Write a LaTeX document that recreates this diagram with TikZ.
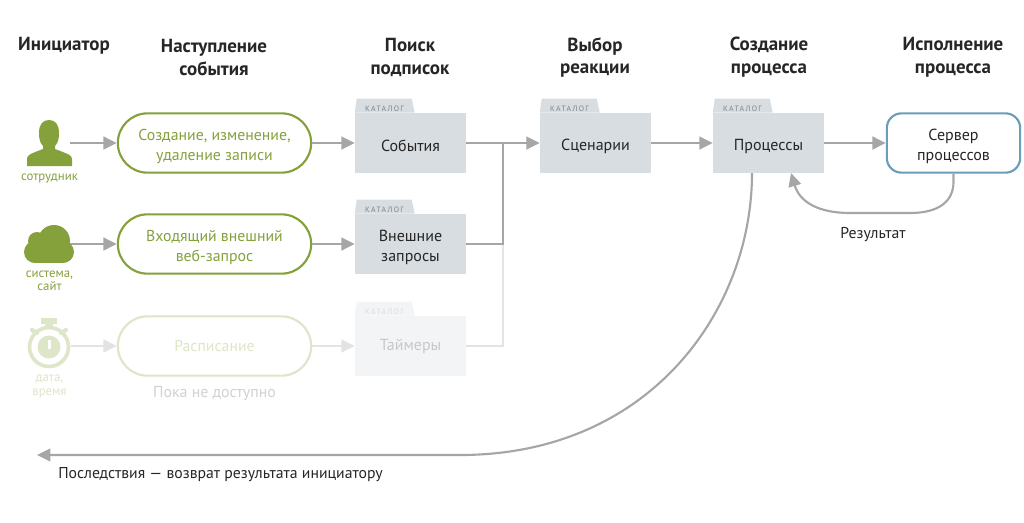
\documentclass[tikz,border=0pt]{standalone}
\usepackage{fontspec}
\setmainfont{PT Sans}
\usepackage{tikz}
\usetikzlibrary{arrows.meta}
\usetikzlibrary{shapes.misc}

\definecolor{leaf}{HTML}{85A13C}
\definecolor{leafpale}{HTML}{DDE6C8}
\definecolor{wire}{HTML}{A6A6A6}
\definecolor{wirepale}{HTML}{E3E3E3}
\definecolor{folderfill}{HTML}{D8DDE1}
\definecolor{folderpale}{HTML}{F3F4F6}
\definecolor{servline}{HTML}{6B9DB5}
\definecolor{tabtext}{HTML}{7F8488}
\definecolor{tabpale}{HTML}{DADCDE}
\definecolor{textpale}{HTML}{C6C8CA}

\newcommand{\lowtext}{\rule{0pt}{13.5pt}}

\tikzset{
  heading/.style={font=\fontsize{14.2}{17.2}\selectfont\bfseries,align=center,text=black!85},
  caption/.style={font=\fontsize{9.6}{9.8}\selectfont,align=center,text=leaf},
  pill/.style={rounded rectangle,draw=leaf,line width=1.6pt,fill=white,text=leaf,align=center,
    minimum width=145pt,minimum height=44.5pt,inner sep=0pt,font=\fontsize{11.85}{15}\selectfont},
  folderbody/.style={fill=folderfill,text=black!85,align=center,minimum width=83.25pt,
    minimum height=45pt,inner sep=0pt,font=\fontsize{12}{15}\selectfont},
  iconbox/.style={minimum width=34.5pt,minimum height=30pt,inner sep=0pt},
  wired/.style={draw=wire,line width=1.8pt},
  conn/.style={wired,-{Triangle[length=10pt,width=9.5pt]}},
  plain/.style={font=\fontsize{11.8}{14}\selectfont,text=black!85},
}

\newcommand{\catalog}[7]{%
  \node[folderbody,fill=#5,text=#6] (#1) at (#2,#3) {#4};
  \fill[#5] (#1.north west) -- ++(2,-14) -- ++(55,0) -- ++(3,14) -- cycle;
  \node[anchor=west,inner sep=0pt,text=#7,font=\fontsize{5.8}{6}\selectfont\addfontfeature{LetterSpace=18}]
    (#1tab) at ([shift={(10,-4)}]#1.north west) {КАТАЛОГ};
}

\begin{document}
\begin{tikzpicture}[x=0.75pt,y=-0.75pt]
\useasboundingbox[fill=white] (0,0) rectangle (1024,522);

\node[heading] (h1) at (64,45.5) {Инициатор};
\node[heading] (h2) at (214,57.5) {Наступление\\события};
\node[heading] (h3) at (410,57.5) {Поиск\\подписок};
\node[heading] (h4) at (595,57.5) {Выбор\\реакции};
\node[heading] (h5) at (769,57.5) {Создание\\процесса};
\node[heading] (h6) at (953,57.5) {Исполнение\\процесса};

\node[iconbox] (worker) at (47,143) {};
\node[iconbox] (cloud) at (47,244) {};
\node[iconbox] (clock) at (48,346) {};

\node[pill] (create) at (214.5,143) {\lowtext Создание, изменение,\\удаление записи};
\node[pill] (request) at (214.5,244) {\lowtext Входящий внешний\\веб-запрос};
\node[pill,draw=leafpale,text=leafpale] (shedule) at (214.5,346) {Расписание};

\catalog{events}{410.5}{143}{\lowtext События}{folderfill}{black!85}{tabtext}
\catalog{queries}{410.5}{244}{\lowtext Внешние\\запросы}{folderfill}{black!85}{tabtext}
\catalog{timers}{410.5}{346}{Таймеры}{folderpale}{textpale}{tabpale}
\catalog{scenes}{595.5}{143}{\lowtext Сценарии}{folderfill}{black!85}{tabtext}
\catalog{procs}{768.5}{143}{\lowtext Процессы}{folderfill}{black!85}{tabtext}

\node[rounded corners=11pt,draw=servline,line width=1.6pt,fill=white,align=center,text=black!85,
  minimum width=100pt,minimum height=44.5pt,inner sep=0pt,font=\fontsize{12}{15}\selectfont]
  (server) at (953.5,143) {\lowtext Сервер\\процессов};

\coordinate (joint) at (503,143);
\coordinate (jointb) at (503,244);
\coordinate (jointc) at (503,346);
\coordinate (procout) at (752,173);
\coordinate (backin) at (791,173);
\coordinate (initiator) at (37,455);

\draw[draw=wirepale,line width=1.4pt] (timers.east) -- (jointc) -- (jointb);
\draw[conn,draw=wirepale] (clock.east) -- (shedule.west);
\draw[conn,draw=wirepale] (shedule.east) -- (timers.west);
\draw[conn] (worker.east) -- (create.west);
\draw[conn] (cloud.east) -- (request.west);
\draw[conn] (create.east) -- (events.west);
\draw[conn] (request.east) -- (queries.west);
\draw[wired] (queries.east) -- (jointb) -- (joint);
\draw[conn] (events.east) -- (scenes.west);
\draw[conn] (scenes.east) -- (procs.west);
\draw[conn] (procs.east) -- (server.west);
\draw[conn,line width=1.6pt] (server.south) -- ++(0,8) .. controls (953.5,202) and (938,213) .. (910,213) -- (850,213)
  .. controls (820,213) and (800,203) .. (backin);
\draw[conn,line width=1.6pt] (procout) .. controls (752,310) and (650,455) .. (460,455) -- (initiator);

\fill[leaf] (27,166) -- (27,159) .. controls (27,155) and (30,154) .. (43,149) -- (43,146)
  .. controls (40,143) and (39,139) .. (39,133) .. controls (39,124) and (43,120) .. (49,120)
  .. controls (55,120) and (59,124) .. (59,133) .. controls (59,139) and (58,143) .. (55,146) -- (55,149)
  .. controls (68,154) and (72,155) .. (72,159) -- (72,166) -- cycle;
\node[caption] (workerlabel) at (49.5,178.5) {сотрудник};

\fill[leaf] (54,241) circle (16);
\fill[leaf] (37,241) circle (9);
\fill[leaf] (35,252) circle (11);
\fill[leaf] (63,252) circle (11);
\fill[leaf] (35,241) rectangle (63,263);
\node[caption] (cloudlabel) at (49.5,280.5) {система,\\сайт};

\draw[leafpale,line width=2.7pt] (49,347) circle (19.5);
\fill[leafpale] (49,347) circle (11.5);
\fill[white] (47.5,340) rectangle (50.5,349);
\fill[leafpale] (41,318) rectangle (57,324);
\fill[leafpale] (45,324) rectangle (53,329);
\draw[leafpale,line width=3.2pt,line cap=round] (32,330) -- (37,333) (66,330) -- (61,333);
\node[caption,text=leafpale] (clocklabel) at (49.5,386.5) {дата,\\время};

\node[font=\fontsize{11.9}{14}\selectfont,text=black!18] (pending) at (214.5,393.5) {Пока не доступно};
\node[plain] (resultlabel) at (873,234.5) {Результат};
\node[plain,anchor=west,inner sep=0pt] (backlabel) at (58,475) {Последствия — возврат результата инициатору};
\end{tikzpicture}
\end{document}
